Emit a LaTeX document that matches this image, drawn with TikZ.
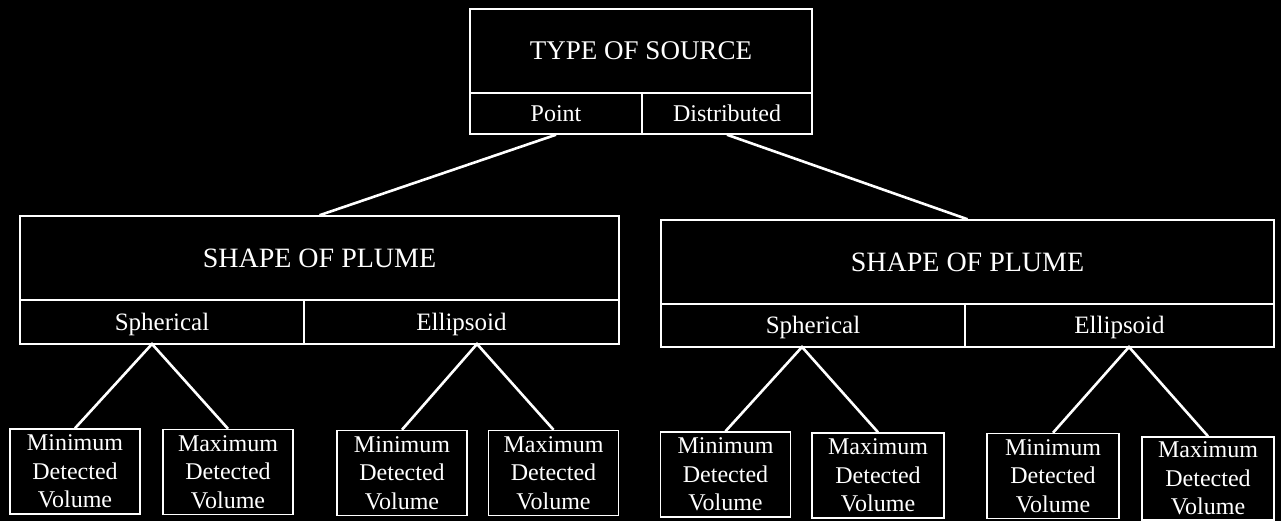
\documentclass[tikz,border=0pt]{standalone}
\usepackage{fontspec}
\setmainfont{Liberation Serif}
\begin{document}
\begin{tikzpicture}[x=1pt,y=1pt,
  every node/.style={text=white},
  boxbase/.style={draw=white, line width=1.5pt, rectangle, inner sep=0pt, text depth=0pt},
  titlebox/.style={boxbase, text height=17.8pt, font=\fontsize{27}{32}\selectfont},
  plumebox/.style={boxbase, text height=18.5pt, font=\fontsize{28}{33}\selectfont},
  secbox/.style={boxbase, text height=15.8pt, font=\fontsize{24}{28}\selectfont},
  shapesec/.style={boxbase, text height=16.5pt, font=\fontsize{25}{30}\selectfont},
  leafbox/.style={draw=white, line width=1.5pt, rectangle, inner sep=0pt, align=center,
    minimum width=130pt, minimum height=85pt, font=\fontsize{24}{28.5}\selectfont},
  link/.style={draw=white, line width=2.6pt}]
\fill[black] (0,0) rectangle (1281,-521);
\useasboundingbox (0,0) rectangle (1281,-521);
% top box
\node[titlebox, minimum width=342pt, minimum height=84pt] (src) at (641,-51) {TYPE OF SOURCE};
\node[secbox, minimum width=172pt, minimum height=41pt] (point) at (556,-113.5) {Point};
\node[secbox, minimum width=170pt, minimum height=41pt] (dist) at (727,-113.5) {Distributed};
% left plume box
\node[plumebox, minimum width=599pt, minimum height=84pt] (lplume) at (319.5,-258) {SHAPE OF PLUME};
\node[shapesec, minimum width=284pt, minimum height=44pt] (lsph) at (162,-322) {Spherical};
\node[shapesec, minimum width=315pt, minimum height=44pt] (lell) at (461.5,-322) {Ellipsoid};
% right plume box
\node[plumebox, minimum width=613pt, minimum height=84pt] (rplume) at (967.5,-262) {SHAPE OF PLUME};
\node[shapesec, minimum width=304pt, minimum height=43pt] (rsph) at (813,-325.5) {Spherical};
\node[shapesec, minimum width=309pt, minimum height=43pt] (rell) at (1119.5,-325.5) {Ellipsoid};
% leaves
\node[leafbox] (l1) at (75,-471.5) {Minimum\\Detected\\Volume};
\node[leafbox] (l2) at (228,-472) {Maximum\\Detected\\Volume};
\node[leafbox] (l3) at (402,-473) {Minimum\\Detected\\Volume};
\node[leafbox] (l4) at (553.5,-473) {Maximum\\Detected\\Volume};
\node[leafbox] (l5) at (725.5,-474.5) {Minimum\\Detected\\Volume};
\node[leafbox, minimum width=132pt] (l6) at (878,-475.5) {Maximum\\Detected\\Volume};
\node[leafbox, minimum width=132pt] (l7) at (1053,-476) {Minimum\\Detected\\Volume};
\node[leafbox, minimum width=132pt, minimum height=83pt] (l8) at (1208,-478.5) {Maximum\\Detected\\Volume};
% apex coordinates
\coordinate (a1) at (152,-344);
\coordinate (a2) at (477,-344);
\coordinate (a3) at (802,-347);
\coordinate (a4) at (1129,-347);
% connectors
\draw[link] (point.south) -- (lplume.north);
\draw[link] (dist.south) -- (rplume.north);
\draw[link] (l1.north) -- (a1) -- (l2.north);
\draw[link] (l3.north) -- (a2) -- (l4.north);
\draw[link] (l5.north) -- (a3) -- (l6.north);
\draw[link] (l7.north) -- (a4) -- (l8.north);
\end{tikzpicture}
\end{document}
